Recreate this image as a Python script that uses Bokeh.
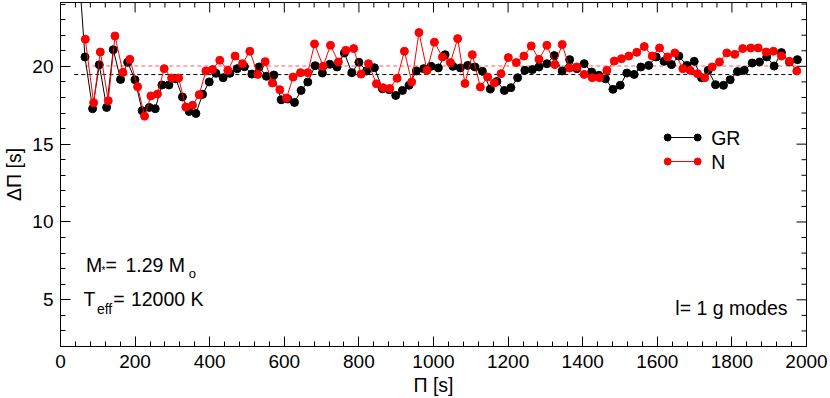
import numpy as np
from bokeh.plotting import figure
from bokeh.models import Range1d, Label, FixedTicker
from bokeh.embed import file_html
from bokeh.resources import INLINE

# ---------------- data ----------------
gr_period = [34, 65.6, 86, 104, 123.6, 141.5, 161, 180, 199.6, 219, 238, 254, 272, 290.6, 309,
             327, 345, 363, 381, 398.8, 416.6, 436, 454, 473.7, 493, 513, 532.6, 552, 572, 591.6,
             609.4, 627.3, 645, 663, 682.6, 702, 722, 741.5, 761, 781, 800, 820.5, 841.6, 863, 881,
             898.7, 916.7, 934.5, 954, 973.7, 993.4, 1013, 1031, 1052, 1072, 1091.6, 1111, 1131,
             1152.4, 1170, 1190, 1207.6, 1225.6, 1245, 1265, 1282.7, 1304, 1324, 1345, 1365,
             1384.5, 1404, 1424, 1443.4, 1461, 1481, 1500.7, 1518.4, 1538, 1556, 1577, 1597, 1618,
             1638, 1657.7, 1679, 1699, 1718.5, 1736.4, 1756, 1777.4, 1795.4, 1815, 1833, 1854.3,
             1874, 1893.4, 1913.2, 1932.8, 1954.2, 1975.6]
gr_spacing = [31.4, 20.6, 17.28, 20.1, 17.36, 21.07, 19.16, 20.26, 19.14, 17.15, 17.36, 17.28, 18.8,
              18.8, 19.2, 18.03, 17.1, 16.97, 18.2, 19.0, 19.55, 19.27, 19.55, 19.85, 19.98, 19.5,
              19.96, 19.36, 19.44, 17.85, 17.9, 17.68, 18.45, 18.99, 20.04, 19.57, 20.13, 19.96,
              20.86, 19.59, 20.26, 19.7, 19.91, 18.56, 18.5, 18.13, 18.45, 18.78, 19.7, 19.85, 20.0,
              19.9, 20.75, 20.0, 19.9, 20.06, 19.96, 19.68, 18.54, 19.03, 18.45, 18.63, 19.27,
              19.74, 19.79, 19.96, 20.17, 20.69, 19.7, 20.43, 19.85, 20.17, 19.63, 19.42, 19.2,
              18.52, 18.78, 19.57, 19.48, 19.96, 20.06, 20.6, 20.32, 20.11, 20.66, 20.06, 20.32,
              19.27, 19.74, 18.82, 18.78, 19.14, 19.66, 19.74, 20.21, 20.28, 20.6, 20.02, 20.88,
              20.28, 20.43]

n_period = [66.5, 88.8, 106.7, 128, 146, 167.4, 186, 206.7, 225.4, 242.4, 260, 278, 297.8, 316.5,
            336, 354, 371.8, 389.8, 407.7, 427, 448.7, 468, 488, 507.6, 529, 548.7, 568, 588, 606,
            623.6, 643.4, 663, 681, 704, 723.8, 745, 764.8, 786, 805.8, 825.6, 847, 864.8, 882.7,
            902.4, 922, 941.6, 961, 982.6, 1002.4, 1024, 1045.3, 1064.8, 1084.4, 1104, 1125.6,
            1145, 1163, 1181, 1200.6, 1222, 1242.5, 1262, 1282.7, 1304, 1325.5, 1345, 1365,
            1384.5, 1404, 1425.6, 1445, 1464.8, 1484.6, 1504, 1523.7, 1545, 1565, 1586.4, 1606,
            1627.5, 1647, 1668.5, 1688, 1707.8, 1727.4, 1747, 1766.7, 1786.3, 1807.7, 1829,
            1850.6, 1870.3, 1891.7, 1911.3, 1932.8, 1954.2, 1974]
n_spacing = [21.74, 17.66, 20.92, 17.79, 21.95, 19.61, 20.45, 18.69, 16.8, 18.1, 18.22, 19.85,
             19.25, 19.25, 17.38, 17.5, 18.18, 19.7, 19.8, 20.39, 19.74, 20.66, 20.17, 20.97,
             19.48, 20.3, 18.93, 18.5, 17.96, 19.31, 19.59, 19.59, 21.44, 20.0, 21.35, 20.28,
             21.03, 21.14, 19.5, 20.17, 18.88, 18.63, 18.58, 19.23, 20.97, 18.99, 22.17, 19.74,
             21.55, 20.6, 20.24, 21.78, 18.9, 20.75, 18.67, 19.31, 18.93, 19.53, 20.56, 20.24,
             20.66, 21.31, 20.45, 21.35, 20.11, 21.4, 19.89, 19.96, 19.48, 19.27, 19.27, 19.74,
             20.34, 20.49, 20.66, 20.9, 21.27, 20.66, 21.18, 20.6, 20.86, 19.85, 19.74, 19.53,
             19.27, 19.96, 20.28, 20.86, 20.77, 21.14, 21.18, 21.18, 20.92, 20.97, 20.66, 20.32,
             19.7]

gr_mean = 19.47
n_mean = 20.02
gr_mean_span = [37, 1961]
n_mean_span = [66.5, 1974]

x_ticks = [0, 200, 400, 600, 800, 1000, 1200, 1400, 1600, 1800, 2000]
x_minor = [v for v in range(0, 2001, 40) if v % 200]
y_ticks = [5, 10, 15, 20]
y_minor = [v for v in range(2, 25) if v % 5]

X0, X1 = 0, 2000
Y0, Y1 = 2, 24.1

# ---------------- layout ----------------
W, H = 830, 398
ML, MR, MT, MB = 59, 24, 2, 52
FW, FH = W - ML - MR, H - MT - MB


def dx(px):  # pixel -> data x (annotation placement only)
    return X0 + (px - ML) / FW * (X1 - X0)


def dy(py):  # pixel -> data y (annotation placement only)
    return Y0 + (MT + FH - py) / FH * (Y1 - Y0)


FONT = "Liberation Sans"
TXT = "19.5px"

p = figure(width=W, height=H, x_range=Range1d(X0, X1), y_range=Range1d(Y0, Y1),
           output_backend="svg", toolbar_location=None,
           min_border_left=ML, min_border_right=MR, min_border_top=MT, min_border_bottom=MB)
p.xgrid.visible = False
p.ygrid.visible = False
p.outline_line_color = "black"
p.outline_line_width = 1
p.background_fill_color = "white"
p.border_fill_color = "white"

for ax, ticks, minor in ((p.xaxis[0], x_ticks, x_minor), (p.yaxis[0], y_ticks, y_minor)):
    ax.ticker = FixedTicker(ticks=ticks, minor_ticks=minor)
    ax.axis_line_color = "black"
    ax.major_tick_in = 10
    ax.major_tick_out = 0
    ax.minor_tick_in = 5
    ax.minor_tick_out = 0
    ax.major_tick_line_color = "black"
    ax.minor_tick_line_color = "black"
    ax.major_label_text_font = FONT
    ax.major_label_text_font_size = "19px"
    ax.major_label_text_color = "black"
    ax.axis_label_text_font = FONT
    ax.axis_label_text_font_size = TXT
    ax.axis_label_text_font_style = "normal"
    ax.axis_label_text_color = "black"

p.xaxis[0].axis_label = "Π [s]"
p.xaxis[0].major_label_standoff = 8
p.xaxis[0].axis_label_standoff = 3
p.yaxis[0].axis_label = "ΔΠ [s]"
p.yaxis[0].major_label_standoff = 7
p.yaxis[0].axis_label_standoff = 4

# mirrored inward ticks on the top and right edges (half of each dash is clipped by the frame)
p.scatter(x=x_ticks, y=[Y1] * len(x_ticks), marker="dash", angle=np.pi / 2, size=20,
          line_color="black", line_width=1)
p.scatter(x=x_minor, y=[Y1] * len(x_minor), marker="dash", angle=np.pi / 2, size=10,
          line_color="black", line_width=1)
p.scatter(x=[X1] * len(y_ticks), y=y_ticks, marker="dash", size=20, line_color="black", line_width=1)
p.scatter(x=[X1] * len(y_minor), y=y_minor, marker="dash", size=10, line_color="black", line_width=1)

# mean period spacings
p.line(gr_mean_span, [gr_mean, gr_mean], line_color="black", line_width=1, line_dash="4 3")
p.line(n_mean_span, [n_mean, n_mean], line_color="#ff5a5a", line_width=1, line_dash="4 3")

# series
p.line(gr_period, gr_spacing, line_color="black", line_width=1)
p.scatter(gr_period, gr_spacing, size=8, fill_color="black", line_color="black")
p.line(n_period, n_spacing, line_color="red", line_width=1)
p.scatter(n_period, n_spacing, size=8, fill_color="red", line_color="red")

# legend (drawn by hand: line with a dot at each end)
leg_x = [dx(667), dx(697)]
for name, col, py in (("GR", "black", 137), ("N", "red", 161)):
    p.line(leg_x, [dy(py)] * 2, line_color=col, line_width=1)
    p.scatter(leg_x, [dy(py)] * 2, size=7, fill_color=col, line_color=col)
    p.add_layout(Label(x=dx(710.5), y=dy(py + 0.5), text=name, text_font=FONT, text_font_size=TXT,
                       text_baseline="alphabetic", text_color="black"))


def txt(text, px, py, size, align="left"):
    p.add_layout(Label(x=dx(px), y=dy(py), text=text, text_font=FONT, text_font_size=size,
                       text_baseline="alphabetic", text_align=align, text_color="black"))


txt("M", 84.5, 264, TXT)
txt("*", 100, 270, "10px")
txt("=", 104, 264, TXT)
txt("1.29 M", 124, 264, TXT)
txt("o", 187.5, 272.5, "13px")
txt("T", 82, 298, TXT)
txt("eff", 95.5, 308.3, "14px")
txt("=", 111.7, 298, TXT)
txt("12000 K", 129.5, 298, TXT)
txt("l= 1 g modes", 787, 307, TXT, align="right")

open("out.html", "w").write(file_html(p, INLINE))
